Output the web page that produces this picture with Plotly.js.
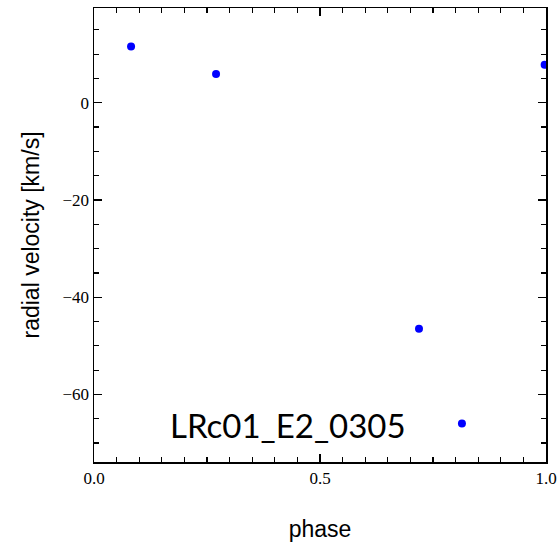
<!DOCTYPE html>
<html><head><meta charset="utf-8">
<script src="https://cdn.plot.ly/plotly-3.0.1.min.js"></script>
<style>body{margin:0;padding:0;background:#fff}#plot{width:560px;height:545px}</style>
</head><body><div id="plot"></div>
<script>
const phase = [0.082, 0.27, 0.997, 0.719, 0.814];
const rv = [11.6, 5.9, 7.8, -46.5, -66.0];
const starLabel = "LRc01_E2_0305";
const xTickVals = [0, 0.5, 1.0];
const xTickText = ["0.0", "0.5", "1.0"];

const trace = {
  x: phase, y: rv, mode: 'markers', type: 'scatter',
  marker: {color: '#0000ff', size: 8, symbol: 'circle'},
  cliponaxis: true, hoverinfo: 'none'
};
const layout = {
  width: 560, height: 545,
  margin: {l: 94, r: 14, t: 8, b: 83},
  paper_bgcolor: '#fff', plot_bgcolor: '#fff',
  showlegend: false,
  xaxis: {
    range: [0, 1], showgrid: false, zeroline: false,
    showline: true, mirror: 'ticks', linecolor: '#000', linewidth: 1.5,
    ticks: 'inside', ticklen: 8, tickcolor: '#000', tickwidth: 1.2,
    tickvals: xTickVals, ticktext: xTickText,
    tickfont: {family: 'Liberation Serif, Times New Roman, serif', size: 17, color: '#000'},
    minor: {dtick: 0.05, ticks: 'inside', ticklen: 5, tickcolor: '#000', tickwidth: 1.2, showgrid: false},
    title: {text: 'phase', font: {family: 'Liberation Sans, Arial, sans-serif', size: 23, color: '#000'}, standoff: 34}
  },
  yaxis: {
    range: [-73.9, 19.5], showgrid: false, zeroline: false,
    showline: true, mirror: 'ticks', linecolor: '#000', linewidth: 1.5,
    ticks: 'inside', ticklen: 8, tickcolor: '#000', tickwidth: 1.2,
    tick0: 0, dtick: 20,
    tickfont: {family: 'Liberation Serif, Times New Roman, serif', size: 17, color: '#000'},
    minor: {dtick: 5, ticks: 'inside', ticklen: 5, tickcolor: '#000', tickwidth: 1.2, showgrid: false},
    title: {text: 'radial velocity [km/s]', font: {family: 'Liberation Sans, Arial, sans-serif', size: 23, color: '#000'}, standoff: 16}
  },
  annotations: [{
    text: starLabel, xref: 'x', yref: 'y', x: 0.43, y: -66.2,
    showarrow: false, xanchor: 'center', yanchor: 'middle',
    font: {family: 'Lato, Open Sans, sans-serif', size: 33, color: '#000'}
  }]
};
Plotly.newPlot('plot', [trace], layout, {displayModeBar: false, staticPlot: true});
</script></body></html>
